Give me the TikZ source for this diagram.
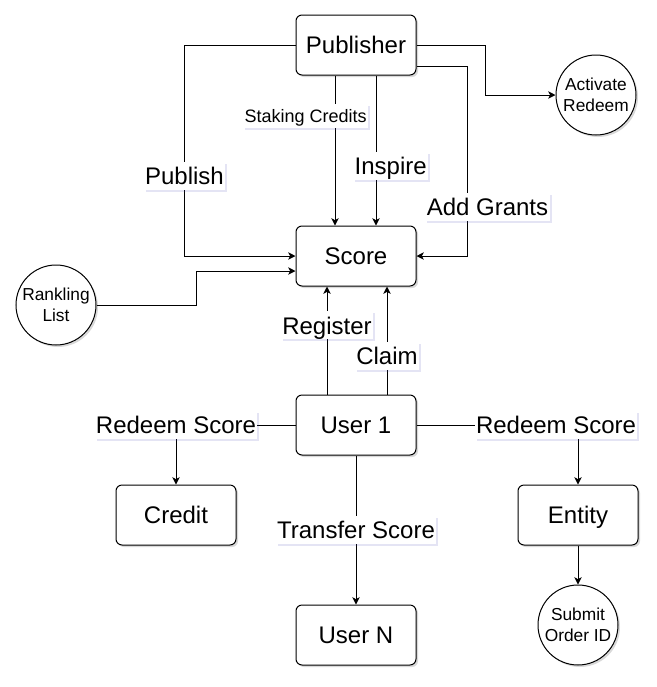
\documentclass[tikz,border=0pt]{standalone}
\usepackage{fontspec}
\setmainfont{Liberation Sans}
\usetikzlibrary{arrows.meta}
\usetikzlibrary{calc}
\usetikzlibrary{shadows}

\begin{document}
\begin{tikzpicture}[x=0.75pt, y=-0.75pt,
		box/.style={draw, line width=0.75pt, rounded corners=4.5pt, fill=white,
			minimum width=90pt, minimum height=45pt, text height=15pt, text depth=2pt,
			font=\fontsize{18}{20}\selectfont,
			drop shadow={shadow xshift=1.5pt, shadow yshift=-1.5pt, fill=black, opacity=0.15}},
		circ/.style={draw, line width=0.75pt, circle, fill=white, minimum size=60pt, inner sep=0pt,
			align=center, font=\fontsize{13}{16}\selectfont,
			drop shadow={shadow xshift=1.5pt, shadow yshift=-1.5pt, fill=black, opacity=0.15}},
		lbl/.style={fill=white, inner xsep=1pt, inner ysep=2pt, text height=15pt, text depth=2pt,
			font=\fontsize{18}{20}\selectfont,
			drop shadow={shadow xshift=1.5pt, shadow yshift=-1.5pt, fill=blue!40!gray, opacity=0.15}},
		smalllbl/.style={lbl, text height=11.5pt, text depth=1.8pt, font=\fontsize{13.5}{15}\selectfont},
		arr/.style={draw, line width=0.75pt, -{Stealth[length=5.5pt, width=5.5pt, inset=1.5pt]}},
		link/.style={draw, line width=0.75pt}]
	\useasboundingbox (0,0) rectangle (657,687);
	% draw boxes
	\node[box] (publisher) at (356,45) {Publisher};
	\node[box] (score) at (356,256) {Score};
	\node[box] (user1) at (356,425) {User 1};
	\node[box] (credit) at (176,515) {Credit};
	\node[box] (entity) at (578,515) {Entity};
	\node[box] (usern) at (356,635) {User N};
	% draw circles
	\node[circ] (activate) at (596,95) {Activate\\Redeem};
	\node[circ] (rankling) at (56,305) {Rankling\\List};
	\node[circ] (submit) at (578,625) {Submit\\Order ID};
	
	% publisher to score
	\draw[arr] (publisher.west) -- ++(-111,0) coordinate (pubcorner)
		-- (pubcorner |- score.west) node[lbl, pos=0.62] (publishlbl) {Publish} -- (score.west);
	\draw[arr] ($(publisher.south)+(-21,0)$) coordinate (stakestart)
		-- (stakestart |- score.north) node[smalllbl, pos=0.27, xshift=-22pt] (stakelbl) {Staking Credits};
	\draw[arr] ($(publisher.south)+(20,0)$) coordinate (inspstart)
		-- (inspstart |- score.north) node[lbl, pos=0.6, xshift=11pt] (insplbl) {Inspire};
	\draw[arr] ($(publisher.east)+(0,21)$) -- ++(51,0) coordinate (grantcorner)
		-- (grantcorner |- score.east) node[lbl, pos=0.74, xshift=15pt] (grantlbl) {Add Grants} -- (score.east);
	\draw[arr] (publisher.east) -- ++(69,0) |- (activate.west);
	% rankling list
	\draw[arr] (rankling.east) -- ++(100,0) |- ($(score.west)+(0,15)$);
	% user 1 to score
	\draw[arr] ($(user1.north)+(-29,0)$) coordinate (regstart)
		-- (regstart |- score.south) node[lbl, pos=0.64] (reglbl) {Register};
	\draw[arr] ($(user1.north)+(31,0)$) coordinate (claimstart)
		-- (claimstart |- score.south) node[lbl, pos=0.36] (claimlbl) {Claim};
	% redeem and transfer
	\draw[arr] (user1.west) -| (credit.north) node[lbl, pos=0.5] (redeemleft) {Redeem Score};
	\draw[arr] (user1.east) -| (entity.north) node[lbl, pos=0.432] (redeemright) {Redeem Score};
	\draw[arr] (user1.south) -- (usern.north) node[lbl, pos=0.5] (transferlbl) {Transfer Score};
	\draw[arr] (entity.south) -- (submit.north);
\end{tikzpicture}
\end{document}
